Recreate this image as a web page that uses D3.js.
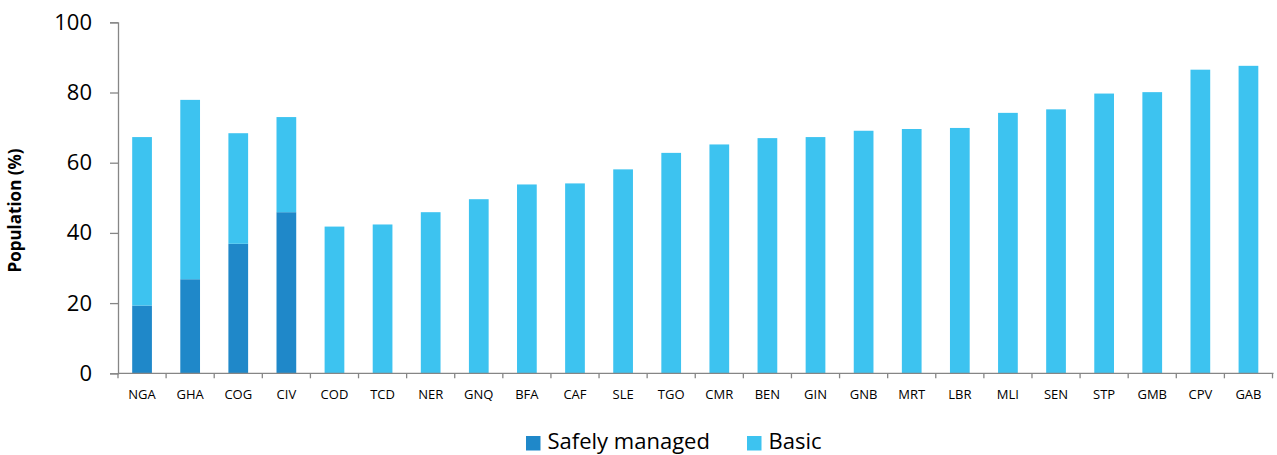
<!DOCTYPE html>
<html>
<head>
<meta charset="utf-8">
<script src="https://cdn.jsdelivr.net/npm/d3@7"></script>
<style>
  html, body { margin: 0; padding: 0; background: #fff; }
  svg { display: block; font-family: "Open Sans", "Noto Sans", sans-serif; }
</style>
</head>
<body>
<svg id="chart" width="1277" height="455"></svg>
<script>
const categories = ["NGA","GHA","COG","CIV","COD","TCD","NER","GNQ","BFA","CAF","SLE","TGO","CMR","BEN","GIN","GNB","MRT","LBR","MLI","SEN","STP","GMB","CPV","GAB"];
const safelyManaged = [19.3, 26.8, 36.9, 45.9, 0, 0, 0, 0, 0, 0, 0, 0, 0, 0, 0, 0, 0, 0, 0, 0, 0, 0, 0, 0];
const basic = [48.0, 51.1, 31.5, 27.1, 41.8, 42.4, 45.9, 49.6, 53.8, 54.1, 58.1, 62.8, 65.2, 67.0, 67.3, 69.1, 69.6, 69.9, 74.2, 75.2, 79.7, 80.1, 86.5, 87.6];
const seriesNames = ["Safely managed", "Basic"];
const yTicks = [0, 20, 40, 60, 80, 100];
const colors = ["#1F88C9", "#3DC3F0"];

const svg = d3.select("#chart");
const mLeft = 118, mRight = 1272.5, mTop = 22.3, mBottom = 373.3;

const x = d3.scaleBand().domain(categories).range([mLeft, mRight]).paddingInner(0.59).paddingOuter(0.295);
const xTick = d3.scaleBand().domain(categories).range([mLeft, mRight]);
const y = d3.scaleLinear().domain([0, 100]).range([mBottom, mTop]);

const rows = categories.map((c, i) => ({ cat: c, "Safely managed": safelyManaged[i], "Basic": basic[i] }));
const stacked = d3.stack().keys(seriesNames)(rows);

svg.append("g").selectAll("g").data(stacked).join("g")
  .attr("fill", (d, i) => colors[i])
  .selectAll("rect").data(d => d.filter(p => p[1] - p[0] > 0)).join("rect")
  .attr("x", d => x(d.data.cat))
  .attr("width", x.bandwidth())
  .attr("y", d => y(d[1]))
  .attr("height", d => y(d[0]) - y(d[1]));

// Y axis
const yAxis = svg.append("g").attr("transform", `translate(${mLeft},0)`)
  .call(d3.axisLeft(y).tickValues(yTicks).tickSize(8).tickPadding(18));
yAxis.select(".domain").attr("stroke", "#868686").attr("stroke-width", 1.3);
yAxis.selectAll(".tick line").attr("stroke", "#868686").attr("stroke-width", 1.3);
yAxis.selectAll("text").attr("font-size", 22).attr("fill", "#000").attr("font-family", "'Open Sans', sans-serif");

// X axis
const xAxisG = svg.append("g").attr("transform", `translate(0,${mBottom})`);
xAxisG.append("line").attr("x1", mLeft).attr("x2", mRight + 1).attr("stroke", "#868686").attr("stroke-width", 1.3);
xAxisG.selectAll("line.tk").data(categories.concat(["__end"])).join("line").attr("class", "tk")
  .attr("x1", d => d === "__end" ? mRight : xTick(d)).attr("x2", d => d === "__end" ? mRight : xTick(d))
  .attr("y1", 0).attr("y2", 5).attr("stroke", "#868686").attr("stroke-width", 1.3);
xAxisG.selectAll("text").data(categories).join("text")
  .attr("x", d => xTick(d) + xTick.bandwidth() / 2)
  .attr("y", 26)
  .attr("text-anchor", "middle")
  .attr("font-size", 13)
  .attr("fill", "#000")
  .text(d => d);

// Y title
svg.append("text")
  .attr("transform", "translate(21,210.5) rotate(-90)")
  .attr("text-anchor", "middle")
  .attr("font-size", 17)
  .attr("font-weight", "bold")
  .attr("fill", "#000")
  .text("Population (%)");

// Legend
const legendX = [526, 747];
const legend = svg.append("g");
seriesNames.forEach((name, i) => {
  legend.append("rect").attr("x", legendX[i]).attr("y", 436).attr("width", 14.5).attr("height", 14.5).attr("fill", colors[i]);
  legend.append("text").attr("x", legendX[i] + 21.5).attr("y", 449).attr("font-size", 22).attr("fill", "#000").text(name);
});
</script>
</body>
</html>
